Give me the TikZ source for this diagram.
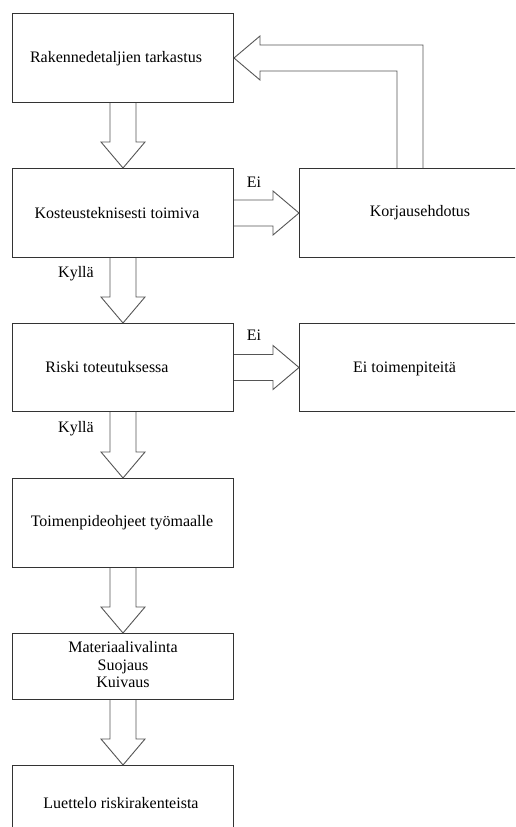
\documentclass[tikz,border=0pt]{standalone}
\usepackage{fontspec}
\setmainfont{Liberation Serif}
\usetikzlibrary{calc}
\definecolor{boxc}{HTML}{333333}
\definecolor{arrc}{HTML}{555555}
\newcommand\fatdown[2]{\draw[fat] ($(#1.south)+(-13,0)$) -- ($(#2.north)+(-13,-26)$) -- ($(#2.north)+(-22,-26)$) -- (#2.north) -- ($(#2.north)+(22,-26)$) -- ($(#2.north)+(13,-26)$) -- ($(#1.south)+(13,0)$);}
\newcommand\fatright[2]{\draw[fat] ($(#1.east)+(0,-13)$) -- ($(#2.west)+(-26,-13)$) -- ($(#2.west)+(-26,-22)$) -- (#2.west) -- ($(#2.west)+(-26,22)$) -- ($(#2.west)+(-26,13)$) -- ($(#1.east)+(0,13)$);}
\begin{document}
\begin{tikzpicture}[x=1pt,y=-1pt,
  box/.style={draw=boxc, line width=1pt, minimum width=221pt, inner sep=0pt, anchor=north west},
  txt/.style={font=\fontsize{16}{17.5}\selectfont, align=center, inner sep=0pt, text=black},
  fat/.style={draw=arrc, line width=0.9pt, line join=miter}]
\useasboundingbox (0,0) rectangle (515,827);
\clip (0,0) rectangle (515,827);
\fill[white] (0,0) rectangle (515,827);
% boxes
\node[box, minimum height=89pt] (b1) at (12,13) {};
\node[box, minimum height=89pt] (b2) at (12,168) {};
\node[box, minimum height=88pt] (b3) at (12,323) {};
\node[box, minimum height=89pt] (b4) at (12,478) {};
\node[box, minimum height=66pt] (b5) at (12,633) {};
\node[box, minimum height=90pt] (b6) at (12,765) {};
\node[box, minimum height=89pt] (k) at (299,168) {};
\node[box, minimum height=88pt] (e) at (299,323) {};
% texts
\node[txt] (t1) at ($(b1.center)+(-7,1)$) {Rakennedetaljien tarkastus};
\node[txt] (t2) at ($(b2.center)+(-6,0)$) {Kosteusteknisesti toimiva};
\node[txt] (t3) at ($(b3.center)+(-16,0)$) {Riski toteutuksessa};
\node[txt] (t4) at ($(b4.center)+(-1,0)$) {Toimenpideohjeet työmaalle};
\node[txt] (t5) at ($(b5.center)+(0,-1.5)$) {Materiaalivalinta\\Suojaus\\Kuivaus};
\node[txt] (t6) at ($(b6.north)+(-2,38)$) {Luettelo riskirakenteista};
\node[txt] (tk) at ($(k.center)+(10,0)$) {Korjausehdotus};
\node[txt] (te) at ($(e.center)+(-5.5,1)$) {Ei toimenpiteitä};
% labels
\node[txt] (l1) at (254,182) {Ei};
\node[txt] (l2) at (254,335) {Ei};
\node[txt] (l3) at (76,274) {Kyllä};
\node[txt] (l4) at (76,429) {Kyllä};
% arrows
\fatdown{b1}{b2}
\fatdown{b2}{b3}
\fatdown{b3}{b4}
\fatdown{b4}{b5}
\fatdown{b5}{b6}
\fatright{b2}{k}
\fatright{b3}{e}
\draw[fat] ($(k.north)+(-13,0)$) |- ($(b1.east)+(26,13)$) -- ($(b1.east)+(26,22)$) -- (b1.east) -- ($(b1.east)+(26,-22)$) -- ($(b1.east)+(26,-13)$) -| ($(k.north)+(13,0)$);
\end{tikzpicture}
\end{document}
